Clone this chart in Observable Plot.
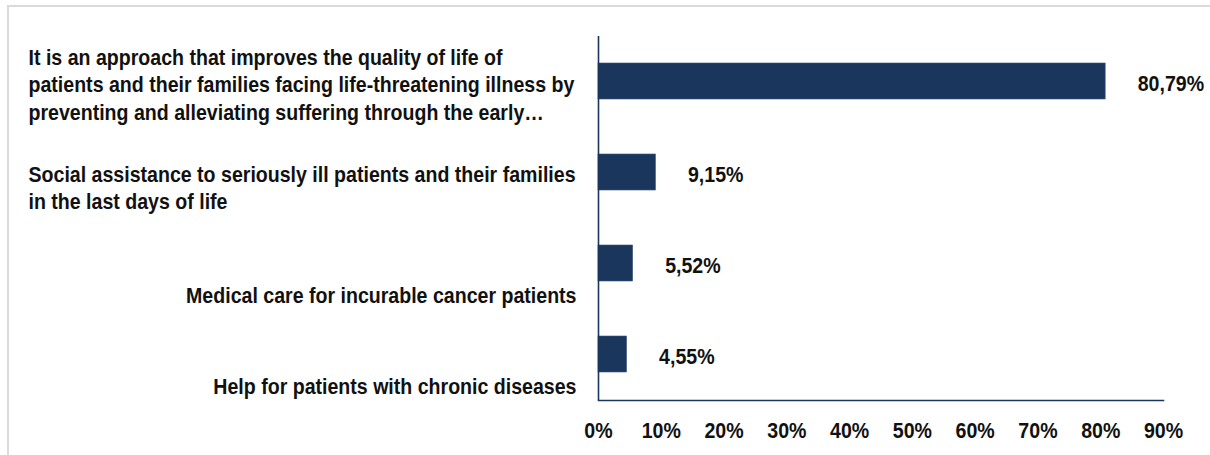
<!DOCTYPE html>
<html>
<head>
<meta charset="utf-8">
<script src="https://cdn.jsdelivr.net/npm/d3@7"></script>
<script src="https://cdn.jsdelivr.net/npm/@observablehq/plot@0.6"></script>
<style>
  html, body { margin: 0; padding: 0; background: #fff; }
  #wrap { position: relative; width: 1210px; height: 455px; overflow: hidden; }
  #edge { position: absolute; left: 7px; top: 5px; right: 0; bottom: 0; border-left: 2px solid #dadada; border-top: 2px solid #dadada; }
  #chart { position: absolute; left: 0; top: 0; }
  svg { font-family: "Liberation Sans", Arial, sans-serif; }
</style>
</head>
<body>
<div id="wrap"><div id="edge"></div><div id="chart"></div></div>
<script>
const categories = [
  "It is an approach that improves the quality of life of\npatients and their families facing life-threatening illness by\npreventing and alleviating suffering through the early…",
  "Social assistance to seriously ill patients and their families\nin the last days of life",
  "Medical care for incurable cancer patients",
  "Help for patients with chronic diseases"
];
const values = [0.8079, 0.0915, 0.0552, 0.0455];
const xTicks = [0, 0.1, 0.2, 0.3, 0.4, 0.5, 0.6, 0.7, 0.8, 0.9];

const data = categories.map((c, i) => ({category: c, value: values[i]}));
const navy = "#1b365d";
const ink = "#111111";
const pct = v => d3.format(".2f")(v * 100).replace(".", ",") + "%";
const font = {fontSize: 22, fontWeight: "bold", fill: ink};

const chart = Plot.plot({
  width: 1210,
  height: 455,
  marginLeft: 598,
  marginRight: 47,
  marginTop: 36,
  marginBottom: 55,
  style: {background: "transparent", overflow: "visible"},
  x: {domain: [0, 0.9], ticks: xTicks, tickFormat: d3.format(".0%")},
  y: {domain: categories, paddingInner: 0.604, paddingOuter: 0.302, axis: null},
  marks: [
    Plot.barX(data, {x: "value", y: "category", fill: navy, stroke: "#3a5680", strokeWidth: 0.6}),
    Plot.ruleX([0], {stroke: navy, strokeWidth: 1.6}),
    Plot.frame({anchor: "bottom", stroke: navy, strokeWidth: 1.6}),
    Plot.axisX({ticks: xTicks, tickFormat: d3.format(".0%"), tickSize: 0, tickPadding: 22, fontSize: 22, fontWeight: "bold", color: ink, label: null}),
    Plot.text(data, {x: "value", y: "category", text: d => pct(d.value), textAnchor: "start", dx: 32, dy: 2, ...font}),
    Plot.text(data.slice(0, 1), {y: "category", text: "category", frameAnchor: "left", textAnchor: "start", dx: -570, dy: 2, lineHeight: 1.26, ...font}),
    Plot.text(data.slice(1, 2), {y: "category", text: "category", frameAnchor: "left", textAnchor: "start", dx: -570, dy: 14, lineHeight: 1.26, ...font}),
    Plot.text(data.slice(2), {y: "category", text: "category", frameAnchor: "left", textAnchor: "end", dx: -22, dy: 31, lineHeight: 1.26, ...font})
  ]
});
// narrow (condensed) rendering of every text, like Arial Narrow
d3.select(chart).selectAll("text").each(function() {
  const t = this.getAttribute("transform");
  if (t) this.setAttribute("transform", t + " scale(0.89,1)");
  else {
    const x = +this.getAttribute("x") || 0, y = +this.getAttribute("y") || 0;
    this.removeAttribute("x"); this.removeAttribute("y");
    this.setAttribute("transform", `translate(${x},${y}) scale(0.89,1)`);
  }
});
document.getElementById("chart").append(chart);
</script>
</body>
</html>
